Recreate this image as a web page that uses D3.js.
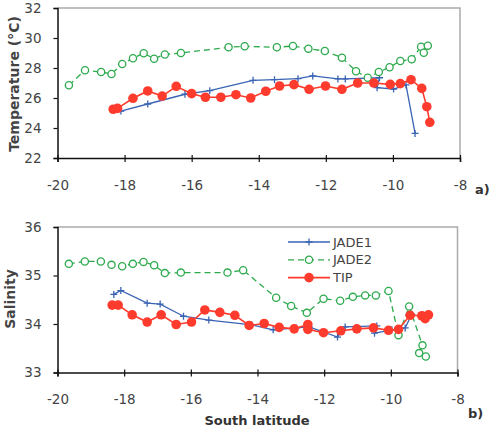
<!DOCTYPE html>
<html>
<head>
<meta charset="utf-8">
<title>JADE / TIP</title>
<style>
  body { margin: 0; background: #fff; }
  text { font-family: "DejaVu Sans", Verdana, sans-serif; }
</style>
</head>
<body>
<div id="chart"></div>
<script src="https://d3js.org/d3.v7.min.js"></script>
<script>

// ---- data ----
var latTicks = [-20, -18, -16, -14, -12, -10, -8];
var tempTicks = [22, 24, 26, 28, 30, 32];
var salTicks = [33, 34, 35, 36];
var seriesNames = ['JADE1', 'JADE2', 'TIP'];

var jade1Temp = [[-18.11, 25.13], [-17.31, 25.6], [-16.2, 26.25], [-15.46, 26.49], [-14.17, 27.18],
  [-13.53, 27.22], [-12.83, 27.29], [-12.39, 27.47], [-11.64, 27.27], [-11.42, 27.27], [-10.4, 27.35],
  [-10.47, 26.69], [-9.98, 26.6], [-9.61, 26.87], [-9.34, 23.64]];

var jade2Temp = [[-19.66, 26.85], [-19.18, 27.85], [-18.7, 27.73], [-18.39, 27.6], [-18.07, 28.27],
  [-17.75, 28.65], [-17.43, 28.98], [-17.12, 28.62], [-16.8, 28.9], [-16.32, 29.0], [-14.9, 29.38],
  [-14.42, 29.45], [-13.46, 29.38], [-12.98, 29.47], [-12.52, 29.29], [-12.03, 29.13], [-11.52, 28.69],
  [-11.1, 27.78], [-10.75, 27.35], [-10.42, 27.73], [-10.1, 28.05], [-9.78, 28.47], [-9.44, 28.58],
  [-9.16, 29.42], [-9.08, 29.02], [-8.96, 29.49]];

var tipTemp = [[-18.34, 25.25], [-18.21, 25.31], [-17.75, 25.98], [-17.31, 26.47], [-16.88, 26.13],
  [-16.46, 26.78], [-16.0, 26.29], [-15.59, 26.05], [-15.13, 26.05], [-14.68, 26.22], [-14.24, 26.0],
  [-13.79, 26.45], [-13.38, 26.8], [-12.95, 26.89], [-12.5, 26.58], [-12.01, 26.8], [-11.52, 26.58],
  [-11.05, 27.0], [-10.57, 27.0], [-10.08, 26.91], [-9.78, 26.96], [-9.46, 27.22], [-9.14, 26.64],
  [-8.99, 25.42], [-8.9, 24.38]];

var jade1Sal = [[-18.31, 34.61], [-18.1, 34.69], [-17.31, 34.43], [-16.92, 34.41], [-16.22, 34.16],
  [-15.46, 34.08], [-14.17, 33.98], [-13.53, 33.88], [-12.83, 33.92], [-12.45, 33.94], [-11.6, 33.73],
  [-11.37, 33.94], [-10.42, 33.96], [-10.49, 33.81], [-9.97, 33.88], [-9.57, 33.92], [-9.37, 34.2]];

var jade2Sal = [[-19.66, 35.24], [-19.18, 35.29], [-18.7, 35.29], [-18.38, 35.22], [-18.06, 35.19],
  [-17.74, 35.24], [-17.42, 35.28], [-17.1, 35.21], [-16.78, 35.05], [-16.3, 35.06], [-14.9, 35.06],
  [-14.43, 35.11], [-13.44, 34.54], [-12.99, 34.37], [-12.52, 34.23], [-12.02, 34.52], [-11.52, 34.48],
  [-11.14, 34.56], [-10.77, 34.59], [-10.45, 34.59], [-10.07, 34.68], [-9.77, 33.77], [-9.45, 34.36],
  [-9.05, 33.56], [-9.15, 33.4], [-8.95, 33.33]];

var tipSal = [[-18.36, 34.39], [-18.18, 34.39], [-17.76, 34.19], [-17.31, 34.04], [-16.89, 34.19],
  [-16.44, 33.99], [-15.98, 34.04], [-15.58, 34.29], [-15.13, 34.24], [-14.68, 34.18], [-14.25, 33.97],
  [-13.8, 34.01], [-13.35, 33.93], [-12.9, 33.9], [-12.49, 33.99], [-12.49, 33.89], [-12.02, 33.82],
  [-11.5, 33.86], [-11.02, 33.9], [-10.52, 33.92], [-10.07, 33.87], [-9.77, 33.89], [-9.42, 34.18],
  [-9.07, 34.17], [-8.97, 34.11], [-8.87, 34.19]];

// ---- page ----
var width = 495, height = 429;
var blue = '#3a64b4', green = '#2eaa4e', red = '#ff3b2e';

var svg = d3.select('#chart').append('svg')
  .attr('width', width)
  .attr('height', height);

// plain hyphen minus like the original, not the typographic one
var fmt = function(d) { return String(d); };

function panel(opt) {
  var x = d3.scaleLinear().domain([-20, -8]).range([opt.left, opt.right]);
  var y = d3.scaleLinear().domain(opt.domain).range([opt.bottom, opt.top]);

  // grey frame on top/right
  svg.append('path')
    .attr('d', 'M' + opt.left + ',' + opt.top + 'H' + opt.right + 'V' + opt.bottom)
    .attr('fill', 'none')
    .attr('stroke', '#aaa')
    .attr('stroke-width', 1.5);

  var xAxis = svg.append('g')
    .attr('transform', 'translate(0,' + opt.bottom + ')')
    .call(d3.axisBottom(x).tickValues(latTicks).tickSize(4).tickPadding(18).tickFormat(fmt));
  var yAxis = svg.append('g')
    .attr('transform', 'translate(' + opt.left + ',0)')
    .call(d3.axisLeft(y).tickValues(opt.ticks).tickSize(4).tickPadding(12).tickFormat(fmt));

  [xAxis, yAxis].forEach(function(a) {
    a.select('.domain').attr('stroke', '#111').attr('stroke-width', 1.5);
    a.selectAll('.tick line').attr('stroke', '#111').attr('stroke-width', 1.2);
    a.selectAll('.tick text')
      .attr('fill', '#444')
      .attr('font-size', 13.5)
      .attr('font-family', '"DejaVu Sans", Verdana, sans-serif');
  });
  // tick marks on x axis cross the line in the original
  xAxis.selectAll('.tick line').attr('y1', -3).attr('y2', 4);

  var line = d3.line().x(function(d) { return x(d[0]); }).y(function(d) { return y(d[1]); });

  // JADE1
  svg.append('path').datum(opt.jade1)
    .attr('d', line).attr('fill', 'none').attr('stroke', blue).attr('stroke-width', 1.3);
  svg.selectAll(null).data(opt.jade1).enter().append('path')
    .attr('d', function(d) {
      var cx = x(d[0]), cy = y(d[1]);
      return 'M' + (cx - 3.5) + ',' + cy + 'H' + (cx + 3.5) + 'M' + cx + ',' + (cy - 3.5) + 'V' + (cy + 3.5);
    })
    .attr('stroke', blue).attr('stroke-width', 1.3);

  // JADE2
  svg.append('path').datum(opt.jade2)
    .attr('d', line).attr('fill', 'none').attr('stroke', green)
    .attr('stroke-width', 1.3).attr('stroke-dasharray', '6,4');
  svg.selectAll(null).data(opt.jade2).enter().append('circle')
    .attr('cx', function(d) { return x(d[0]); })
    .attr('cy', function(d) { return y(d[1]); })
    .attr('r', 3.6)
    .attr('fill', '#fff').attr('stroke', green).attr('stroke-width', 1.3);

  // TIP
  svg.append('path').datum(opt.tip)
    .attr('d', line).attr('fill', 'none').attr('stroke', red).attr('stroke-width', 1.6);
  svg.selectAll(null).data(opt.tip).enter().append('circle')
    .attr('cx', function(d) { return x(d[0]); })
    .attr('cy', function(d) { return y(d[1]); })
    .attr('r', 4.8)
    .attr('fill', red);

  // y title
  svg.append('text')
    .attr('transform', 'translate(' + opt.titleX + ',' + opt.titleY + ') rotate(-90)')
    .attr('text-anchor', 'middle')
    .attr('font-size', 14)
    .attr('font-weight', 'bold')
    .attr('fill', '#444')
    .text(opt.title);

  svg.append('text')
    .attr('x', opt.tagX).attr('y', opt.tagY)
    .attr('font-size', 13)
    .attr('font-weight', 'bold')
    .attr('fill', '#333')
    .text(opt.tag);

  return { x: x, y: y };
}

panel({
  left: 57.5, right: 460, top: 8, bottom: 158,
  domain: [22, 32], ticks: tempTicks,
  jade1: jade1Temp, jade2: jade2Temp, tip: tipTemp,
  title: 'Temperature (°C)', titleX: 19, titleY: 84,
  tag: 'a)', tagX: 475, tagY: 194
});

panel({
  left: 57.5, right: 457.5, top: 227, bottom: 372.5,
  domain: [33, 36], ticks: salTicks,
  jade1: jade1Sal, jade2: jade2Sal, tip: tipSal,
  title: 'Salinity', titleX: 15, titleY: 299,
  tag: 'b)', tagX: 468, tagY: 418
});

svg.append('text')
  .attr('x', 257).attr('y', 425)
  .attr('text-anchor', 'middle')
  .attr('font-size', 13)
  .attr('font-weight', 'bold')
  .attr('fill', '#333')
  .text('South latitude');

// legend
var legend = svg.append('g').attr('transform', 'translate(288,242)');
seriesNames.forEach(function(name, i) {
  var g = legend.append('g').attr('transform', 'translate(0,' + (i * 17.8) + ')');
  var col = [blue, green, red][i];
  g.append('line').attr('x1', 0).attr('x2', 42).attr('y1', 0).attr('y2', 0)
    .attr('stroke', col).attr('stroke-width', i === 2 ? 1.6 : 1.3)
    .attr('stroke-dasharray', i === 1 ? '6,4' : null);
  if (i === 0) {
    g.append('path').attr('d', 'M17.5,0H24.5M21,-3.5V3.5').attr('stroke', col).attr('stroke-width', 1.3);
  } else if (i === 1) {
    g.append('circle').attr('cx', 21).attr('cy', 0).attr('r', 3.6)
      .attr('fill', '#fff').attr('stroke', col).attr('stroke-width', 1.3);
  } else {
    g.append('circle').attr('cx', 21).attr('cy', 0).attr('r', 4.8).attr('fill', col);
  }
  g.append('text').attr('x', 45).attr('y', 4.5)
    .attr('font-size', 13).attr('fill', '#444')
    .text(name);
});

</script>
</body>
</html>
